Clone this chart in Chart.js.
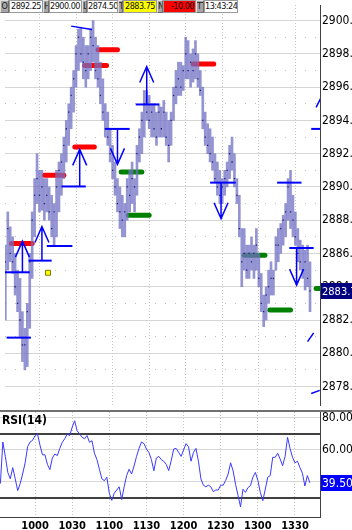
<!DOCTYPE html>
<html>
<head>
<meta charset="utf-8">
<title>ES 1 min</title>
<script src="https://cdn.jsdelivr.net/npm/chart.js@4.4.1/dist/chart.umd.min.js"></script>
<style>
  html, body { margin: 0; padding: 0; background: #fff; }
  body { position: relative; width: 352px; height: 530px; overflow: hidden;
         font-family: 'Liberation Sans Narrow', 'DejaVu Sans Condensed', sans-serif; }
  #priceChart { position: absolute; left: 0; top: 0; }
  #rsiChart { position: absolute; left: 0; top: 412px; }
  #divider { position: absolute; left: 0; top: 410px; width: 352px; height: 2px; background: #707070; }
  #quote { position: absolute; left: 0; top: 0; display: flex; height: 13px; font-size: 9px; line-height: 11px; letter-spacing: -0.5px; }
  #quote span { box-sizing: border-box; height: 13px; overflow: hidden; white-space: nowrap; }
  #quote .k { background: #a6a6a6; color: #202020; text-align: center; border: 1px solid; border-color: #e0e0e0 #6e6e6e #6e6e6e #e0e0e0; }
  #quote .v { background: #fff; color: #111; text-align: right; padding-right: 1px; border: 1px solid #9a9a9a; }
  #quote .yel { background: #ffff00; }
  #quote .red { background: #ff0000; }
  #rsiTitle { position: absolute; left: 2px; top: 413px; font-size: 12px; font-weight: bold; }
</style>
</head>
<body>
<canvas id="priceChart" width="352" height="410"></canvas>
<div id="divider"></div>
<canvas id="rsiChart" width="352" height="118"></canvas>
<div id="rsiTitle">RSI(14)</div>
<div id="quote">
  <span class="k" style="width:9px">O</span><span class="v" style="width:34px">2892.25</span>
  <span class="k" style="width:6px">H</span><span class="v" style="width:33px">2900.00</span>
  <span class="k" style="width:5px">L</span><span class="v" style="width:31px">2874.50</span>
  <span class="k" style="width:5px">T</span><span class="v yel" style="width:34px">2883.75</span>
  <span class="k" style="width:6px">N</span><span class="v red" style="width:33px">-10.00</span>
  <span class="k" style="width:8px">TT</span><span class="v" style="width:34px">13:43:24</span>
</div>
<script>
// ---- data ----
const xTickLabels = ['1000', '1030', '1100', '1130', '1200', '1230', '1300', '1330'];
const priceTicks = [2878, 2880, 2882, 2884, 2886, 2888, 2890, 2892, 2894, 2896, 2898, 2900];
const rsiTicks = [40, 60, 80];

// 2 minute bars
const barTimes = [
  '9:32', '9:34', '9:36', '9:38', '9:40', '9:42', '9:44', '9:46', '9:48', '9:50', '9:52', '9:54', '9:56', '9:58',
  '10:00', '10:02', '10:04', '10:06', '10:08', '10:10', '10:12', '10:14', '10:16', '10:18',
  '10:20', '10:22', '10:24', '10:26', '10:28', '10:30', '10:32', '10:34', '10:36', '10:38',
  '10:40', '10:42', '10:44', '10:46', '10:48', '10:50', '10:52', '10:54', '10:56', '10:58',
  '11:00', '11:02', '11:04', '11:06', '11:08', '11:10', '11:12', '11:14', '11:16', '11:18',
  '11:20', '11:22', '11:24', '11:26', '11:28', '11:30', '11:32', '11:34', '11:36', '11:38',
  '11:40', '11:42', '11:44', '11:46', '11:48', '11:50', '11:52', '11:54', '11:56', '11:58',
  '12:00', '12:02', '12:04', '12:06', '12:08', '12:10', '12:12', '12:14', '12:16', '12:18',
  '12:20', '12:22', '12:24', '12:26', '12:28', '12:30', '12:32', '12:34', '12:36', '12:38',
  '12:40', '12:42', '12:44', '12:46', '12:48', '12:50', '12:52', '12:54', '12:56', '12:58',
  '13:00', '13:02', '13:04', '13:06', '13:08', '13:10', '13:12', '13:14', '13:16', '13:18',
  '13:20', '13:22', '13:24', '13:26', '13:28', '13:30', '13:32', '13:34', '13:36', '13:38',
  '13:40', '13:42'
];
const barLow = [
  2882.0, 2885.0, 2885.5, 2884.8, 2883.5, 2882.5, 2881.0, 2879.5, 2879.0, 2879.2,
  2881.5, 2884.5, 2887.0, 2889.0, 2888.5, 2888.6, 2888.0, 2888.5, 2888.0, 2887.0,
  2886.5, 2887.0, 2888.5, 2889.5, 2890.5, 2891.5, 2892.5, 2893.5, 2894.5, 2896.0,
  2897.0, 2897.5, 2896.5, 2896.0, 2896.5, 2897.0, 2897.5, 2896.5, 2896.0, 2895.0,
  2894.0, 2893.0, 2892.5, 2891.5, 2890.5, 2889.5, 2888.5, 2887.5, 2887.0, 2887.0,
  2888.0, 2888.5, 2889.0, 2888.5, 2889.5, 2891.5, 2892.0, 2893.0, 2894.0, 2893.5,
  2893.0, 2893.0, 2892.5, 2893.0, 2893.0, 2893.0, 2892.5, 2891.5, 2892.5, 2894.0,
  2895.0, 2895.5, 2895.5, 2895.8, 2896.5, 2896.5, 2896.0, 2896.3, 2896.5, 2896.0,
  2895.5, 2893.5, 2892.5, 2892.0, 2891.5, 2891.0, 2890.3, 2889.5, 2889.0, 2889.0,
  2889.5, 2890.0, 2890.5, 2891.0, 2890.0, 2889.0, 2887.0, 2884.0, 2885.0, 2884.5,
  2884.5, 2885.0, 2884.5, 2885.0, 2884.0, 2882.5, 2881.6, 2882.0, 2883.0, 2883.5,
  2883.5, 2885.0, 2885.5, 2886.0, 2886.5, 2887.0, 2888.0, 2887.5, 2887.0, 2886.5,
  2885.5, 2885.0, 2884.5, 2883.8, 2884.0, 2882.5
];
const barHigh = [
  2886.5, 2888.5, 2887.6, 2887.0, 2886.0, 2885.0, 2884.5, 2882.5, 2881.5, 2883.0,
  2886.0, 2888.5, 2890.5, 2892.0, 2891.0, 2891.0, 2890.5, 2890.5, 2890.0, 2889.5,
  2889.0, 2891.0, 2891.5, 2892.0, 2893.0, 2894.0, 2895.0, 2896.0, 2897.0, 2898.5,
  2899.5, 2899.6, 2899.0, 2898.5, 2898.5, 2899.5, 2900.0, 2899.0, 2898.5, 2897.5,
  2896.5, 2895.0, 2894.5, 2893.5, 2892.5, 2891.5, 2890.5, 2890.0, 2889.5, 2889.0,
  2890.5, 2891.0, 2891.5, 2890.5, 2892.5, 2893.5, 2894.5, 2895.8, 2895.8, 2895.5,
  2895.0, 2895.0, 2894.5, 2895.0, 2894.8, 2895.2, 2894.5, 2894.0, 2894.5, 2896.0,
  2897.0, 2897.5, 2897.5, 2897.3, 2899.0, 2898.8, 2898.0, 2898.3, 2898.8, 2898.0,
  2897.0, 2896.0, 2894.5, 2893.8, 2893.5, 2893.0, 2892.0, 2891.5, 2891.0, 2890.5,
  2891.0, 2891.5, 2892.5, 2893.0, 2892.0, 2890.5, 2889.5, 2887.5, 2887.5, 2886.5,
  2886.5, 2887.0, 2886.5, 2887.5, 2886.0, 2884.8, 2883.5, 2884.0, 2885.0, 2885.5,
  2885.0, 2887.0, 2887.5, 2887.8, 2888.3, 2889.0, 2890.5, 2891.0, 2889.5, 2888.5,
  2887.5, 2886.8, 2886.5, 2886.2, 2886.5, 2885.5
];
const barClose = [
  2885.5, 2887.5, 2886.0, 2885.5, 2884.0, 2883.0, 2882.0, 2880.5, 2880.5, 2882.5,
  2885.5, 2888.0, 2889.5, 2890.5, 2889.5, 2890.0, 2889.0, 2889.5, 2888.5, 2887.5,
  2888.5, 2890.0, 2891.0, 2891.5, 2892.5, 2893.5, 2894.5, 2895.5, 2896.5, 2898.0,
  2899.0, 2898.0, 2897.5, 2897.0, 2898.0, 2899.0, 2898.5, 2897.0, 2896.5, 2895.5,
  2894.5, 2893.5, 2893.0, 2892.0, 2891.0, 2890.0, 2889.0, 2888.5, 2888.0, 2888.5,
  2890.0, 2889.5, 2890.5, 2890.0, 2892.0, 2893.0, 2894.0, 2895.0, 2894.5, 2894.0,
  2894.5, 2893.5, 2893.0, 2894.5, 2893.5, 2894.5, 2893.0, 2892.5, 2894.0, 2895.5,
  2896.0, 2896.5, 2896.0, 2897.0, 2898.0, 2897.0, 2897.5, 2897.0, 2898.0, 2896.5,
  2895.8, 2894.0, 2893.0, 2892.5, 2892.0, 2891.5, 2890.5, 2890.0, 2889.5, 2890.0,
  2890.5, 2891.0, 2892.0, 2891.5, 2890.5, 2889.5, 2887.5, 2885.5, 2886.0, 2885.0,
  2886.0, 2885.5, 2886.0, 2886.5, 2884.5, 2883.0, 2882.5, 2883.5, 2884.0, 2884.5,
  2884.5, 2886.5, 2886.5, 2887.5, 2888.0, 2888.5, 2890.0, 2888.5, 2888.0, 2887.0,
  2886.0, 2885.5, 2885.0, 2885.5, 2884.5, 2883.75
];
const rsiValues = [
  39, 65, 56, 46, 42, 49, 42, 34.6, 39, 45,
  52, 62, 65, 66, 69, 70, 63, 57, 57, 51,
  47.7, 55, 57.5, 56.5, 61, 64.8, 67, 70, 69, 74.2,
  78.3, 72, 70, 68, 67, 69, 64.8, 65.8, 58, 54,
  48, 42, 40.8, 43, 33, 28.5, 33, 35, 37, 29,
  37, 44, 48, 45, 50, 56, 61, 65, 64, 60.6,
  58.5, 54, 47, 55, 56, 54, 53, 51, 47.1, 53.3,
  60.6, 61, 58.5, 56, 60, 64, 62, 53, 58.5, 61,
  53, 42, 38, 37, 38, 37, 34, 35, 35, 38,
  38, 41, 45, 52, 47, 38.5, 31.5, 24.5, 35.5, 33.5,
  36.5, 37.7, 43, 46, 41, 33.5, 28.3, 35.5, 43, 44,
  55.4, 55.4, 58, 54.4, 50.2, 56, 67.9, 61, 55.4, 52,
  53, 49, 45.5, 37.5, 44, 39.5
];
const rsiBands = [70, 30];
const lastPrice = 2883.75;

// signal marks
const redLevels = [2886.6, 2890.7, 2892.4, 2897.3, 2898.25, 2897.4];
const redFrom = ['9:37', '10:04', '10:29', '10:37', '10:48', '12:06'];
const redTo = ['9:54', '10:20', '10:45', '10:55', '11:04', '12:23'];
const greenLevels = [2890.9, 2888.3, 2885.9, 2882.6, 2883.9];
const greenFrom = ['11:07', '11:13', '12:48', '13:09', '13:47'];
const greenTo = ['11:24', '11:30', '13:05', '13:26', '14:05'];
const blueLevels = [2884.87, 2885.57, 2886.45, 2880.94, 2890.03, 2893.49, 2894.96, 2890.26, 2890.26, 2886.33, 2893.49];
const blueFrom = ['9:31', '9:51', '10:06', '9:33', '10:18', '10:54', '11:19', '12:20', '13:15', '13:25', '13:43'];
const blueTo = ['9:52', '10:10', '10:27', '9:53', '10:38', '11:14', '11:38', '12:41', '13:35', '13:45', '14:03'];
const trendFrom = ['10:26', '13:47', '13:40', '13:43'];
const trendTo = ['10:43', '13:51', '13:45', '13:50'];
const trendFromPrice = [2899.67, 2894.78, 2880.70, 2877.58];
const trendToPrice = [2899.47, 2895.37, 2881.23, 2877.77];
const arrowTimes = ['9:46', '10:02', '10:33', '11:04', '11:28', '12:29', '13:31'];
const arrowFrom = [2884.87, 2885.57, 2890.03, 2893.49, 2894.96, 2890.26, 2886.33];
const arrowTo = [2886.74, 2887.62, 2892.26, 2891.36, 2897.24, 2888.09, 2884.10];
const flagTime = '10:07';
const flagPrice = 2884.84;

// ---- layout ----
const FONT = "'Liberation Sans Narrow', 'DejaVu Sans Condensed', sans-serif";
Chart.defaults.font.family = FONT;
Chart.defaults.color = '#000';

const X_MIN = 571.7, X_MAX = 830.2;
const PRICE_MIN = 2876.89, PRICE_MAX = 2900.94;
const RSI_MIN = 18.12, RSI_MAX = 83.75;
const AXIS_W = 32;

const toMin = s => { const p = s.split(':'); return Number(p[0]) * 60 + Number(p[1]); };
const tickMin = s => Number(s.slice(0, -2)) * 60 + Number(s.slice(-2));

function fixWidth(s) { s.width = AXIS_W; s.paddingTop = 0; s.paddingBottom = 0; }
function fixHeight(h) {
  return s => { s.height = h; s.paddingLeft = 0; s.paddingRight = 0; };
}
function timeTicks(s) { s.ticks = xTickLabels.map(l => ({ value: tickMin(l) })); }

function segment(from, to, y1, y2, color, width, cap, order) {
  return {
    type: 'line',
    data: [{ x: toMin(from), y: y1 }, { x: toMin(to), y: y2 }],
    borderColor: color, borderWidth: width, borderCapStyle: cap,
    pointRadius: 0, order: order
  };
}

const valueBox = {
  id: 'valueBox',
  afterDraw(chart, args, opts) {
    const ctx = chart.ctx;
    const left = chart.chartArea.right + 1;
    const y = Math.round(chart.scales.y.getPixelForValue(opts.value));
    ctx.save();
    ctx.fillStyle = opts.bg;
    ctx.fillRect(left, y - 8, chart.width - left, 16);
    ctx.fillStyle = '#fff';
    ctx.font = opts.size + 'px ' + FONT;
    ctx.textBaseline = 'middle';
    ctx.fillText(opts.text, left + 1, y + 1);
    ctx.restore();
  }
};

const arrowHeads = {
  id: 'arrowHeads',
  afterDatasetsDraw(chart) {
    const xs = chart.scales.x, ys = chart.scales.y, ctx = chart.ctx, a = chart.chartArea;
    ctx.save();
    ctx.beginPath();
    ctx.rect(a.left, a.top, a.right - a.left, a.bottom - a.top);
    ctx.clip();
    ctx.strokeStyle = '#0000ff';
    ctx.lineWidth = 1.5;
    arrowTimes.forEach((t, i) => {
      const x = xs.getPixelForValue(toMin(t));
      const yb = ys.getPixelForValue(arrowFrom[i]);
      const yt = ys.getPixelForValue(arrowTo[i]);
      const d = yb > yt ? 1 : -1;
      ctx.beginPath();
      ctx.moveTo(x, yb);
      ctx.lineTo(x, yt);
      ctx.moveTo(x - 7, yt + 16 * d);
      ctx.lineTo(x, yt);
      ctx.lineTo(x + 7, yt + 16 * d);
      ctx.stroke();
    });
    ctx.restore();
  }
};

const priceDatasets = [
  ...redFrom.map((f, i) => segment(f, redTo[i], redLevels[i], redLevels[i], '#ff0000', 5, 'round', 20)),
  ...greenFrom.map((f, i) => segment(f, greenTo[i], greenLevels[i], greenLevels[i], '#008000', 5, 'round', 20)),
  ...blueFrom.map((f, i) => segment(f, blueTo[i], blueLevels[i], blueLevels[i], '#0000ff', 2, 'butt', 0)),
  ...trendFrom.map((f, i) => segment(f, trendTo[i], trendFromPrice[i], trendToPrice[i], '#0000ff', 1.5, 'butt', 0)),
  {
    type: 'line',
    data: [{ x: toMin(flagTime), y: flagPrice }],
    showLine: false, pointStyle: 'rect', pointRadius: 3.5,
    pointBackgroundColor: '#ffff00', pointBorderColor: '#7a7a00', pointBorderWidth: 1,
    order: 1
  },
  {
    type: 'line',
    data: barTimes.map((t, i) => ({ x: toMin(t), y: barClose[i] })),
    showLine: false, pointStyle: 'rect', pointRadius: 0.9,
    pointBackgroundColor: '#1e1e78', pointBorderWidth: 0,
    order: 5
  },
  {
    type: 'bar',
    data: barTimes.map((t, i) => ({ x: toMin(t), y: [barLow[i], barHigh[i]] })),
    backgroundColor: 'rgba(112, 112, 196, 0.75)',
    barThickness: 2,
    order: 10
  }
];

new Chart(document.getElementById('priceChart'), {
  type: 'bar',
  data: { datasets: priceDatasets },
  plugins: [valueBox, arrowHeads],
  options: {
    responsive: false, animation: false, devicePixelRatio: 1, events: [],
    layout: { padding: 0 },
    plugins: {
      legend: { display: false }, tooltip: { enabled: false },
      valueBox: { value: lastPrice, text: lastPrice.toFixed(2), bg: '#000080', size: 11 }
    },
    scales: {
      x: {
        type: 'linear', min: X_MIN, max: X_MAX, offset: false,
        afterBuildTicks: timeTicks, afterFit: fixHeight(0),
        ticks: { display: false },
        grid: { color: '#c4c4c4', drawTicks: false, offset: false },
        border: { display: false, dash: [1, 2] }
      },
      y: {
        position: 'right', min: PRICE_MIN, max: PRICE_MAX,
        afterBuildTicks: s => { s.ticks = priceTicks.map(v => ({ value: v })); },
        afterFit: fixWidth,
        ticks: { padding: 2, font: { size: 12 }, callback: v => v.toFixed(2) },
        grid: { color: '#d6d6d6', drawTicks: false },
        border: { color: '#404040' }
      },
      yMinor: {
        position: 'right', min: PRICE_MIN, max: PRICE_MAX,
        afterBuildTicks: s => {
          s.ticks = priceTicks.slice(1).map((v, i) => ({ value: (v + priceTicks[i]) / 2 }));
        },
        afterFit: s => { s.width = 0; s.paddingTop = 0; s.paddingBottom = 0; },
        ticks: { display: false },
        grid: { color: '#c0c0c0', drawTicks: false },
        border: { display: false, dash: [1, 9] }
      }
    }
  }
});

new Chart(document.getElementById('rsiChart'), {
  type: 'line',
  data: {
    datasets: [
      ...rsiBands.map(v => ({
        data: [{ x: X_MIN, y: v }, { x: X_MAX, y: v }],
        borderColor: '#000', borderWidth: 1.5, pointRadius: 0, order: 1
      })),
      {
        data: barTimes.map((t, i) => ({ x: toMin(t), y: rsiValues[i] })),
        borderColor: '#3a3aff', borderWidth: 1, pointRadius: 0, tension: 0, order: 0
      }
    ]
  },
  plugins: [valueBox],
  options: {
    responsive: false, animation: false, devicePixelRatio: 1, events: [],
    layout: { padding: 0 },
    plugins: {
      legend: { display: false }, tooltip: { enabled: false },
      valueBox: { value: rsiValues[rsiValues.length - 1], text: rsiValues[rsiValues.length - 1].toFixed(2), bg: '#0000ff', size: 12 }
    },
    scales: {
      x: {
        type: 'linear', min: X_MIN, max: X_MAX,
        afterBuildTicks: timeTicks, afterFit: fixHeight(13),
        ticks: { padding: 3, autoSkip: false, maxRotation: 0, font: { size: 11, weight: 'bold' },
                 callback: (v, i) => xTickLabels[i] },
        grid: { color: '#c4c4c4', drawTicks: false },
        border: { color: '#404040', dash: [1, 2] }
      },
      y: {
        position: 'right', min: RSI_MIN, max: RSI_MAX,
        afterBuildTicks: s => { s.ticks = rsiTicks.map(v => ({ value: v })); },
        afterFit: fixWidth,
        ticks: { padding: 2, font: { size: 12 }, callback: v => v.toFixed(2) },
        grid: { color: '#d6d6d6', drawTicks: false },
        border: { color: '#404040' }
      }
    }
  }
});
</script>
</body>
</html>
